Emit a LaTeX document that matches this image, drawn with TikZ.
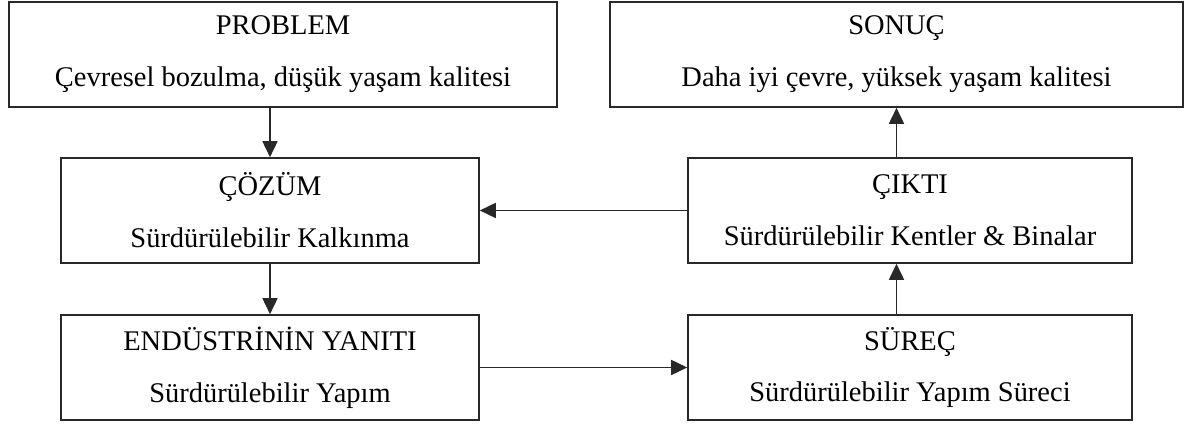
\documentclass[tikz,border=0pt]{standalone}
\usepackage{fontspec}
\setmainfont{Liberation Serif}
\usepackage{xcolor}
\usetikzlibrary{arrows.meta, positioning}
\definecolor{tline}{RGB}{40,40,40}

\begin{document}
\begin{tikzpicture}[
  font=\fontsize{16.2}{19}\selectfont,
  >={Triangle[length=3.2mm, width=3mm]},
  stage/.style={draw=tline, line width=0.9pt, fill=white, align=center,
                minimum width=#1, minimum height=2.1cm, inner sep=0pt},
  flow/.style={->, line width=0.9pt, tline}
]
\useasboundingbox (0,0) rectangle (23.8,8.5);

% ---- top row ----
\node[stage=10.96cm] (problem) at (5.66,7.41)
  {PROBLEM\\[10.5pt] Çevresel bozulma, düşük yaşam kalitesi};
\node[stage=11.46cm] (sonuc) at (17.93,7.41)
  {SONUÇ\\[10.5pt] Daha iyi çevre, yüksek yaşam kalitesi};

% ---- middle row ----
\node[stage=8.36cm] (cozum) at (5.40,4.29)
  {ÇÖZÜM\\[10.5pt] Sürdürülebilir Kalkınma};
\node[stage=8.88cm] (cikti) at (18.20,4.29)
  {ÇIKTI\\[10.5pt] Sürdürülebilir Kentler \& Binalar};

% ---- bottom row ----
\node[stage=8.36cm] (yanit) at (5.40,1.15)
  {ENDÜSTRİNİN YANITI\\[10.5pt] Sürdürülebilir Yapım};
\node[stage=8.88cm] (surec) at (18.20,1.15)
  {SÜREÇ\\[10.5pt] Sürdürülebilir Yapım Süreci};

% ---- connectors ----
\draw[flow] (cozum.north |- problem.south) -- (cozum.north);
\draw[flow] (cozum.south) -- (yanit.north);
\draw[flow] (yanit.east) -- (surec.west);
\draw[flow] (sonuc.south |- surec.north) -- (sonuc.south |- cikti.south);
\draw[flow] (cikti.west) -- (cozum.east);
\draw[flow] (sonuc.south |- cikti.north) -- (sonuc.south);

\end{tikzpicture}
\end{document}
